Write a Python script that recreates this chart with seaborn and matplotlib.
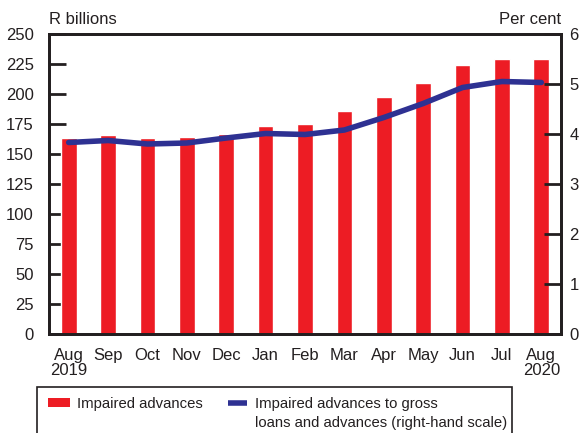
import numpy as np
import pandas as pd
import matplotlib
matplotlib.use("Agg")
import matplotlib.pyplot as plt
from matplotlib.patches import Rectangle, Patch
from matplotlib.lines import Line2D
import seaborn as sns

months = ["Aug\n2019", "Sep", "Oct", "Nov", "Dec", "Jan", "Feb", "Mar", "Apr",
          "May", "Jun", "Jul", "Aug\n2020"]
impaired_advances = [163.3, 165.8, 163.2, 164.0, 166.7, 173.3, 175.0, 185.8,
                     197.5, 209.0, 224.2, 229.2, 229.2]
impaired_ratio = [3.83, 3.87, 3.80, 3.82, 3.92, 4.01, 3.99, 4.08, 4.33, 4.61,
                  4.93, 5.05, 5.03]
left_ticks = [0, 25, 50, 75, 100, 125, 150, 175, 200, 225, 250]
right_ticks = [0, 1, 2, 3, 4, 5, 6]
legend_labels = ["Impaired advances", "Impaired advances to gross",
                 "loans and advances (right-hand scale)"]

RED = "#ed1c24"
BLUE = "#2e3192"
INK = "#231f20"
FS = 12
LFS = 10.7

sns.set_style("white")
plt.rcParams['font.family'] = ['Liberation Sans', 'DejaVu Sans']
plt.rcParams['font.size'] = FS

df = pd.DataFrame({"month": months, "value": impaired_advances,
                   "ratio": impaired_ratio, "pos": np.arange(len(months))})

fig = plt.figure(figsize=(5.83, 4.33), dpi=100)
ax = fig.add_axes([49/583, 1-334/433, (561-49)/583, (334-34)/433])

sns.barplot(data=df, x="month", y="value", color=RED, width=0.4,
            saturation=1, ax=ax, order=months)
ax.set_xlim(-0.5, len(months) - 0.5)
ax.set_ylim(0, 250)
ax.set_yticks(left_ticks)
ax.set_xlabel("")
ax.set_ylabel("")
ax.set_xticks(np.arange(len(months)))
ax.set_xticklabels(months, fontsize=FS, color=INK, linespacing=1.0)
ax.set_xticks(np.arange(len(months) + 1) - 0.5, minor=True)
ax.tick_params(axis="x", which="major", length=0, pad=10)
ax.tick_params(axis="x", which="minor", direction="in", length=6, width=1.5, color=INK)
ax.tick_params(axis="y", direction="in", length=12, width=2, color=INK,
               labelsize=FS, labelcolor=INK, pad=11)
for sp in ax.spines.values():
    sp.set_linewidth(2)
    sp.set_color(INK)

ax2 = ax.twinx()
sns.lineplot(data=df, x="pos", y="ratio", color=BLUE, linewidth=4, ax=ax2)
ax2.set_ylim(0, 6)
ax2.set_yticks(right_ticks)
ax2.set_xlim(-0.5, len(months) - 0.5)
ax2.set_ylabel("")
ax2.set_xlabel("")
ax2.tick_params(axis="y", direction="in", length=12, width=2, color=INK,
                labelsize=FS, labelcolor=INK, pad=6)
for sp in ax2.spines.values():
    sp.set_linewidth(2)
    sp.set_color(INK)

fig.text(49/583, 1-20/433, "R billions", fontsize=FS, color=INK, va="center", ha="left")
fig.text(561/583, 1-20/433, "Per cent", fontsize=FS, color=INK, va="center", ha="right")

# legend box
rect = Rectangle((37/583, -0.05), (512-37)/583, 1-387/433+0.05,
                 transform=fig.transFigure, fill=False, edgecolor=INK,
                 linewidth=1.2, clip_on=False)
fig.patches.append(rect)

fs_px = LFS * 100 / 72
leg1 = fig.legend([Patch(facecolor=RED, edgecolor="none")], [legend_labels[0]],
                  loc="center left", bbox_to_anchor=(48/583, 1-404/433),
                  frameon=False, fontsize=LFS, handlelength=22/fs_px,
                  handleheight=0.6, handletextpad=7/fs_px, labelcolor=INK,
                  borderaxespad=0, borderpad=0)
leg2 = fig.legend([Line2D([0], [0], color=BLUE, linewidth=4, solid_capstyle="butt")],
                  [legend_labels[1]],
                  loc="center left", bbox_to_anchor=(228/583, 1-404/433),
                  frameon=False, fontsize=LFS, handlelength=19/fs_px,
                  handleheight=0.6, handletextpad=8/fs_px, labelcolor=INK,
                  borderaxespad=0, borderpad=0)
fig.canvas.draw()
renderer = fig.canvas.get_renderer()
bb = leg2.get_texts()[0].get_window_extent(renderer)
fig.text(bb.x0 / fig.bbox.width, (bb.y0 - 19) / fig.bbox.height,
         legend_labels[2], fontsize=LFS, color=INK, ha="left", va="bottom")

fig.savefig("out.png", dpi=100)
